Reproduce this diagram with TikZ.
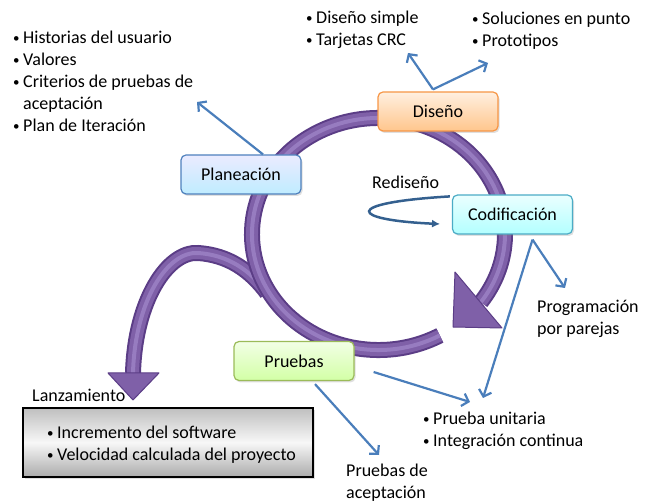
\documentclass[tikz,border=0pt]{standalone}
\usepackage{fontspec}
\setmainfont{Carlito}
\usetikzlibrary{arrows.meta,shadows}
\definecolor{ringpurple}{HTML}{7F60A8}
\definecolor{ringdark}{HTML}{5B3D86}
\definecolor{ringlight}{HTML}{977CC0}
\definecolor{arrowblue}{HTML}{4A7EBB}
\definecolor{redisblue}{HTML}{34608F}
\definecolor{disborder}{HTML}{F79646}
\definecolor{plaborder}{HTML}{4F81BD}
\definecolor{codborder}{HTML}{4BACC6}
\definecolor{pruborder}{HTML}{9BBB59}
\newcommand{\bul}{\makebox[11pt][l]{\hspace{1pt}\raisebox{1.2pt}{\scalebox{.72}{\textbullet}}}}

\begin{document}
\begin{tikzpicture}[x=1pt,y=-1pt,
   every node/.style={font=\fontsize{18}{22}\selectfont},
   fase/.style={draw,rounded corners=5pt,line width=1.2pt,minimum width=120pt,
      minimum height=39pt,drop shadow={shadow xshift=1.5pt,shadow yshift=-2pt,opacity=.25}},
   lista/.style={anchor=base west,align=left,inner sep=0pt},
   flecha/.style={arrowblue,line width=2.2pt,-{Straight Barb[length=6pt,width=13pt]}},
   anillo/.style={line width=16pt,ringdark},
   punta/.style={fill=ringpurple,draw=ringdark,line width=1pt,line join=round}]
   \useasboundingbox (0,0) rectangle (649,502);

   % release arrow
   \draw[anillo] (267,293) .. controls (250,270) and (228,255) .. (198,253)
      .. controls (168,251) and (135,300) .. (133,373);
   \draw[line width=12pt,ringpurple] (267,293) .. controls (250,270) and (228,255) .. (198,253)
      .. controls (168,251) and (135,300) .. (133,373);
   \draw[line width=4pt,ringlight] (267,293) .. controls (250,270) and (228,255) .. (198,253)
      .. controls (168,251) and (135,300) .. (133,373);
   \draw[punta] (108,373) -- (159,373) -- (133,400) -- cycle;

   % cycle
   \draw[anillo] (378.5,234) ++(61:126.5 and 116) arc (61:396:126.5 and 116);
   \draw[line width=12pt,ringpurple] (378.5,234) ++(61:126.5 and 116) arc (61:396:126.5 and 116);
   \draw[line width=4pt,ringlight] (378.5,234) ++(61:126.5 and 116) arc (61:396:126.5 and 116);
   \draw[punta] (455,272) -- (502,328) -- (453,327) -- cycle;

   % phases
   \node (plan) at (241,174.5) [fase,draw=plaborder,top color=blue!8,bottom color=blue!30!cyan!25] {Planeación};
   \node (dis) at (438,111.5) [fase,draw=disborder,top color=orange!12,bottom color=orange!45] {Diseño};
   \node (cod) at (512.5,214.5) [fase,draw=codborder,top color=cyan!8,bottom color=cyan!30] {Codificación};
   \node (pru) at (294,361) [fase,draw=pruborder,top color=green!50!yellow!10,bottom color=green!50!yellow!35] {Pruebas};

   % texts (anchored at the last line)
   \node (planlist) at (12,132) [lista] {\bul Historias del usuario\\ \bul Valores\\
      \bul Criterios de pruebas de\\ \hspace*{11pt}aceptación\\ \bul Plan de Iteración};
   \node (dislist) at (305,46) [lista] {\bul Diseño simple\\ \bul Tarjetas CRC};
   \node (sollist) at (471,47) [lista] {\bul Soluciones en punto\\ \bul Prototipos};
   \node (redis) at (372,189) [lista] {Rediseño};
   \node (parejas) at (537,335) [lista] {Programación\\ por parejas};
   \node (unit) at (422,447) [lista] {\bul Prueba unitaria\\ \bul Integración continua};
   \node (acep) at (346,499) [lista] {Pruebas de\\ aceptación};
   \node (lanz) at (32,402) [lista] {Lanzamiento};
   \node (lanzbox) at (168,442.5) [draw,line width=1.3pt,minimum width=290pt,minimum height=69pt,
      top color=black!25,bottom color=black!33,middle color=black!3,
      drop shadow={shadow xshift=2pt,shadow yshift=-2pt,opacity=.25}] {};
   \node (lanzlist) at (46,461) [lista] {\bul Incremento del software\\ \bul Velocidad calculada del proyecto};

   % arrow ends
   \coordinate (tipplan) at (197,102);
   \coordinate (tipdis) at (408,53);
   \coordinate (tipsol) at (488,63);
   \coordinate (tippar) at (565,288);
   \coordinate (tipunit) at (483,398);
   \coordinate (tipint) at (470,402);
   \coordinate (tipacep) at (379,455);
   \coordinate (tipredis) at (440,224);

   \draw[flecha] ([shift={(22,0)}]plan.north) -- (tipplan);
   \draw[flecha] ([shift={(-5,-2)}]dis.north) -- (tipdis);
   \draw[flecha] ([shift={(-5,-2)}]dis.north) -- (tipsol);
   \draw[flecha] ([shift={(20,5)}]cod.south) -- (tippar);
   \draw[flecha] ([shift={(20,5)}]cod.south) -- (tipunit);
   \draw[flecha] ([shift={(19,11)}]pru.east) -- (tipint);
   \draw[flecha] ([shift={(21,3)}]pru.south) -- (tipacep);
   \draw[redisblue,line width=2.5pt,-{Latex[length=8pt,width=8pt]}] ([shift={(-2,2)}]cod.north west)
      .. controls (340,203) and (350,220) .. (tipredis);
\end{tikzpicture}
\end{document}
